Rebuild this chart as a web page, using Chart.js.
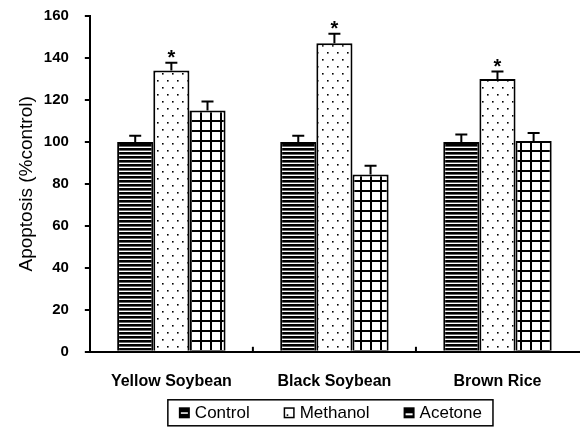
<!DOCTYPE html>
<html>
<head>
<meta charset="utf-8">
<script src="https://cdn.jsdelivr.net/npm/chart.js@4/dist/chart.umd.min.js"></script>
<style>
  html, body { margin: 0; padding: 0; background: #fff; }
  #wrap { width: 584px; height: 430px; }
</style>
</head>
<body>
<div id="wrap"><canvas id="c" width="584" height="430"></canvas></div>
<script>
// Apoptosis relative to control for each extract
const categories = ['Yellow Soybean', 'Black Soybean', 'Brown Rice'];
const seriesNames = ['Control', 'Methanol', 'Acetone'];
const controlValues = [100, 100, 100];
const methanolValues = [134, 147, 130];
const acetoneValues = [115, 84.5, 100.5];
const controlErrors = [3, 3, 3.5];
const methanolErrors = [3.7, 4.5, 3.5];
const acetoneErrors = [4.3, 4.2, 3.8];
const methanolSignificant = [true, true, true];
const yTicks = [0, 20, 40, 60, 80, 100, 120, 140, 160];

const FONT = '"Liberation Sans", Arial, sans-serif';

function makePattern(w, h, paint) {
  const c = document.createElement('canvas');
  c.width = w; c.height = h;
  const g = c.getContext('2d');
  paint(g, w, h);
  return g.createPattern(c, 'repeat');
}
const ctx = document.getElementById('c').getContext('2d');

// horizontal stripes
const stripePattern = makePattern(8, 4, (g, w, h) => {
  g.fillStyle = '#000'; g.fillRect(0, 0, w, h);
  g.fillStyle = '#fff'; g.fillRect(0, 2.6, w, 1.4);
});
// sparse staggered dots
const dotPattern = makePattern(10, 14, (g, w, h) => {
  g.fillStyle = '#fff'; g.fillRect(0, 0, w, h);
  g.fillStyle = '#000';
  g.fillRect(2, 3, 1.6, 1.6);
  g.fillRect(7, 10, 1.6, 1.6);
});
// square grid
const gridPattern = makePattern(10, 10, (g, w, h) => {
  g.fillStyle = '#fff'; g.fillRect(0, 0, w, h);
  g.fillStyle = '#000';
  g.fillRect(0, 0, 2, h);
  g.fillRect(0, 0, w, 2);
});

const errorSets = [controlErrors, methanolErrors, acetoneErrors];

const errorBarPlugin = {
  id: 'errorBars',
  afterDatasetsDraw(chart) {
    const g = chart.ctx;
    const yScale = chart.scales.y;
    g.save();
    g.strokeStyle = '#000';
    g.lineWidth = 2;
    chart.data.datasets.forEach((ds, di) => {
      const meta = chart.getDatasetMeta(di);
      meta.data.forEach((bar, i) => {
        const top = yScale.getPixelForValue(ds.data[i] + errorSets[di][i]);
        g.beginPath();
        g.moveTo(bar.x, bar.y);
        g.lineTo(bar.x, top);
        g.moveTo(bar.x - 6, top);
        g.lineTo(bar.x + 6, top);
        g.stroke();
        if (di === 1 && methanolSignificant[i]) {
          g.fillStyle = '#000';
          g.font = 'bold 20px ' + FONT;
          g.textAlign = 'center';
          g.textBaseline = 'alphabetic';
          g.fillText('*', bar.x, top + 1);
        }
      });
    });
    // inside tick marks at category boundaries on the x axis
    const xScale = chart.scales.x;
    const half = (xScale.getPixelForValue(1) - xScale.getPixelForValue(0)) / 2;
    const base = chart.chartArea.bottom;
    for (let i = 0; i < categories.length - 1; i++) {
      const px = xScale.getPixelForValue(i) + half;
      g.beginPath();
      g.moveTo(px, base);
      g.lineTo(px, base - 5);
      g.stroke();
    }
    g.restore();
  }
};

// small legend swatches, one per series
function drawSwatch(g, idx, x, y, s) {
  g.save();
  g.lineWidth = 1.5;
  g.strokeStyle = '#000';
  if (idx === 0) {
    g.fillStyle = '#000'; g.fillRect(x, y, s, s);
    g.fillStyle = '#fff'; g.fillRect(x + 2, y + s / 2 - 0.5, s - 4, 1.5);
  } else if (idx === 1) {
    g.fillStyle = '#fff'; g.fillRect(x, y, s, s);
    g.strokeRect(x + 0.75, y + 0.75, s - 1.5, s - 1.5);
    g.fillStyle = '#000'; g.fillRect(x + 3, y + s - 4, 1.6, 1.6);
  } else {
    g.fillStyle = '#000'; g.fillRect(x, y, s, s);
    g.fillStyle = '#fff'; g.fillRect(x + 2, y + s / 2 + 0.5, s - 4, 2);
  }
  g.restore();
}

const boxedLegendPlugin = {
  id: 'boxedLegend',
  afterDraw(chart) {
    const g = chart.ctx;
    const area = chart.chartArea;
    const fontSize = 17;
    const sw = 11, swGap = 5, itemGap = 34, padX = 11;
    g.save();
    g.font = fontSize + 'px ' + FONT;
    const labels = chart.data.datasets.map(d => d.label);
    const widths = labels.map(t => sw + swGap + g.measureText(t).width);
    const total = widths.reduce((a, b) => a + b, 0) + itemGap * (labels.length - 1);
    const cx = (area.left + area.right) / 2 - 4;
    const boxTop = area.bottom + 48;
    const boxH = 26;
    const boxLeft = cx - total / 2 - padX;
    g.strokeStyle = '#000';
    g.lineWidth = 1.5;
    g.strokeRect(boxLeft, boxTop, total + padX * 2, boxH);
    let x = cx - total / 2;
    const midY = boxTop + boxH / 2;
    g.textBaseline = 'middle';
    g.textAlign = 'left';
    labels.forEach((t, i) => {
      drawSwatch(g, i, x, midY - sw / 2, sw);
      g.fillStyle = '#000';
      g.fillText(t, x + sw + swGap, midY + 1);
      x += widths[i] + itemGap;
    });
    g.restore();
  }
};

new Chart(ctx, {
  type: 'bar',
  data: {
    labels: categories,
    datasets: [
      { label: seriesNames[0], data: controlValues, backgroundColor: stripePattern },
      { label: seriesNames[1], data: methanolValues, backgroundColor: dotPattern },
      { label: seriesNames[2], data: acetoneValues, backgroundColor: gridPattern }
    ]
  },
  options: {
    responsive: false,
    animation: false,
    devicePixelRatio: 1,
    layout: { padding: { top: 16, right: 5, left: 4, bottom: 39 } },
    datasets: {
      bar: {
        borderColor: '#000',
        borderWidth: 2,
        borderSkipped: 'start',
        barPercentage: 1.0,
        categoryPercentage: 0.665
      }
    },
    scales: {
      x: {
        // labels only need the padding once, on the axis side
        afterFit(scale) {
          scale.paddingLeft = 0; scale.paddingRight = 0;
          scale.height -= scale.options.ticks.padding;
        },
        grid: { display: false },
        border: { display: true, color: '#000', width: 2 },
        ticks: { color: '#000', font: { family: FONT, size: 16, weight: 'bold' }, padding: 12 }
      },
      y: {
        min: 0, max: 160,
        afterFit(scale) {
          scale.paddingTop = 0; scale.paddingBottom = 0;
          scale.width -= scale.options.ticks.padding;
        },
        afterBuildTicks(scale) { scale.ticks = yTicks.map(v => ({ value: v })); },
        grid: { drawOnChartArea: false, color: '#000', lineWidth: 2, tickLength: 5 },
        border: { display: true, color: '#000', width: 2 },
        ticks: { color: '#000', font: { family: FONT, size: 15, weight: 'bold' }, padding: 16 },
        title: {
          display: true,
          text: 'Apoptosis (%control)',
          color: '#000',
          font: { family: FONT, size: 19 },
          padding: { top: 11, bottom: 6 }
        }
      }
    },
    plugins: {
      legend: { display: false },
      tooltip: { enabled: false }
    }
  },
  plugins: [errorBarPlugin, boxedLegendPlugin]
});
</script>
</body>
</html>
